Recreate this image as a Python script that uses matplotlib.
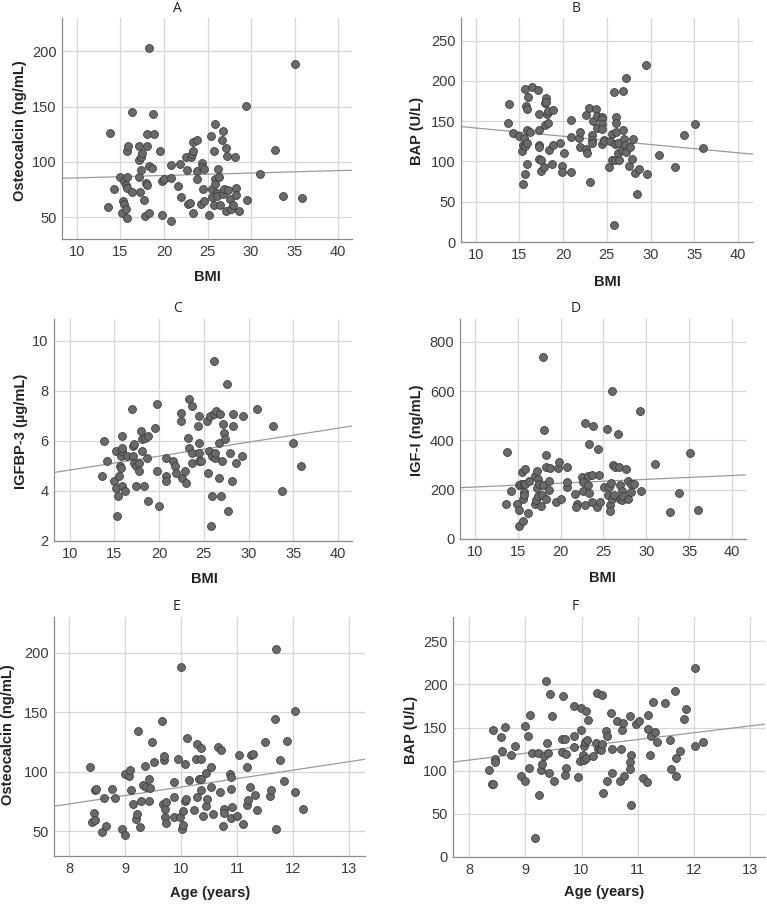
import matplotlib
matplotlib.use("Agg")
import matplotlib.pyplot as plt
import numpy as np

W, H = 767, 907

# ---------------- data ----------------
bmi_A = [13.57,13.77,14.2,14.9,15.3,15.4,15.2,15.6,15.8,15.4,
         15.6,15.8,15.8,15.7,15.9,16.3,16.3,17.1,17.1,17.2,
         17.1,17.3,17.4,17.5,17.7,17.9,17.8,18.1,18.0,18.1,
         18.3,18.3,18.3,18.6,18.7,18.8,19.5,19.8,19.8,20.0,
         20.8,20.8,20.8,21.6,21.8,21.9,22.5,22.6,22.7,23.0,
         23.1,23.2,23.3,23.3,23.3,23.8,23.8,23.8,24.3,24.4,
         24.4,24.5,24.6,24.6,25.2,25.4,25.5,25.5,25.8,25.8,
         25.9,25.9,25.9,26.1,26.1,26.2,26.3,26.4,26.7,26.8,
         26.8,26.9,27.1,27.2,27.1,27.4,27.6,27.7,27.9,28.1,
         28.3,28.3,28.6,29.4,29.5,31.0,32.7,33.7,35.0,35.9]
osteo_A = [59.6,126.2,75.9,86.7,64.5,62.0,53.6,57.8,49.4,82.8,
           79.2,86.7,76.2,110.2,114.8,72.6,144.9,114.5,101.5,72.6,
           86.4,92.8,104.8,108.1,65.7,81.3,51.2,78.9,125.6,114.5,
           54.2,202.7,96.4,94.6,143.1,125.3,110.2,52.1,82.8,84.9,
           97.3,85.2,46.7,78.6,98.2,68.7,104.8,93.1,62.3,62.7,
           104.8,107.2,109.9,117.8,54.2,120.2,92.2,84.3,62.3,98.8,
           95.8,75.6,64.8,94.0,51.8,123.8,75.3,68.1,109.6,60.8,
           134.6,84.6,80.4,71.7,69.6,93.7,86.1,61.4,119.9,128.3,
           71.1,75.6,113.0,105.4,55.4,74.7,66.6,57.2,61.4,104.5,
           76.2,70.5,56.0,150.9,65.7,88.9,110.5,69.0,188.6,67.8]

bmi_B = [13.65,13.84,14.3,15.0,15.3,15.4,15.4,15.5,15.6,15.6,
         15.7,15.8,15.9,15.9,15.9,16.0,15.9,16.2,16.4,17.1,
         17.2,17.2,17.3,17.3,17.3,17.5,17.5,17.8,17.9,17.9,
         18.1,18.1,18.2,18.3,18.3,18.4,18.7,18.8,18.9,19.6,
         19.9,19.9,20.1,20.85,20.9,20.9,21.8,21.9,21.9,22.6,
         22.6,22.7,23.0,23.1,23.25,23.3,23.3,23.4,23.8,23.9,
         23.9,24.4,24.5,24.5,24.5,24.5,24.7,24.7,25.2,25.4,
         25.6,25.6,25.8,25.8,25.9,25.95,26.1,26.1,26.1,26.3,
         26.3,26.4,26.7,26.8,26.8,27.0,27.1,27.2,27.2,27.5,
         27.7,27.9,28.0,28.2,28.4,28.7,29.45,29.6,31.0,32.8,
         33.8,35.1,36.0]
bap_B = [147.4,170.9,135.8,132,113,71.6,120,129.6,119.2,84.9,
         190,168.9,139.1,122.5,164.7,179.6,96.9,136.6,192,188.7,
         139.1,102.6,120.4,118.4,159.4,101.4,87.7,93.5,172.2,145.7,
         178.4,174.3,159,147.4,163.1,114.7,97.3,120.4,163.5,123.3,
         94.8,87.3,110.5,151.5,130.8,87.3,129.6,136.6,117.5,115.9,
         157.7,110.5,166.4,74.1,133.3,126.7,122.5,150.7,165.1,156.9,
         141.1,155.2,152.3,146.5,140.7,121.3,126.7,125.4,93.5,125,
         133.7,101.4,186.7,21.5,101.4,121.7,154.8,136.2,148.2,123.3,
         110.1,101.4,114.2,187.5,139.1,128.3,120,112.2,204,94.8,
         118.4,102.6,127.5,86.1,59.6,91.1,220.2,84.4,108,92.7,
         133.3,146.9,117.1]

bmi_C = [13.6,13.8,14.2,14.9,15.2,15.2,15.3,15.4,15.5,15.6,
         15.7,15.7,15.8,15.8,15.9,15.9,16.2,16.35,17.0,17.1,
         17.1,17.2,17.2,17.4,17.4,17.8,17.8,18.0,18.1,18.1,
         18.3,18.4,18.6,18.7,18.8,19.5,19.8,19.8,20.0,20.8,
         20.8,20.8,21.6,21.8,21.9,22.5,22.5,22.6,22.9,23.0,
         23.2,23.3,23.3,23.7,23.7,23.7,24.3,24.5,24.5,24.5,
         24.5,24.7,25.35,25.5,25.6,25.7,25.9,25.9,25.8,26.1,
         26.1,26.2,26.3,26.4,26.7,26.7,26.8,26.9,27.0,27.1,
         27.2,27.4,27.6,27.7,27.9,28.2,28.3,28.3,28.6,29.3,
         29.4,30.9,32.7,33.7,35.0,35.9]
igfbp3_C = [4.62,6.01,5.22,4.42,5.62,4.12,3.01,3.82,4.62,5.02,
            5.42,4.92,4.2,6.2,5.62,5.71,4.02,5.41,7.30,5.81,
            5.41,5.9,5.13,5.02,4.22,4.82,5.14,6.41,5.61,6.1,
            4.22,6.11,5.31,3.62,6.2,6.51,7.50,4.80,3.42,5.31,
            4.62,4.42,5.22,5.02,4.72,7.12,6.81,4.51,4.82,4.31,
            6.11,7.70,5.73,7.40,5.51,5.11,6.61,7.01,5.91,5.53,
            5.2,5.22,6.81,4.71,5.62,7.01,5.41,3.82,2.61,7.10,
            9.2,5.33,5.51,7.21,4.51,5.91,7.10,3.82,5.22,6.70,
            6.31,6.1,8.30,3.22,5.51,4.42,7.10,6.61,5.11,5.41,
            7.01,7.30,6.61,4.02,5.91,5.02]

bmi_D = [13.6,13.8,14.2,14.9,15.2,15.2,15.2,15.4,15.5,15.6,
         15.6,15.7,15.7,15.7,15.9,15.9,16.2,16.3,17.0,17.0,
         17.1,17.2,17.2,17.4,17.4,17.5,17.7,17.8,17.9,18.0,
         18.1,18.3,18.3,18.3,18.6,18.6,18.8,19.5,19.7,19.8,
         20.0,20.7,20.8,20.8,21.7,21.9,21.8,22.5,22.6,22.6,
         22.9,22.9,23.2,23.2,23.3,23.3,23.7,23.7,23.8,24.3,
         24.4,24.5,24.6,25.1,25.4,25.5,25.6,25.8,25.8,25.9,
         25.95,26.0,26.1,26.2,26.4,26.7,26.8,26.9,26.9,27.1,
         27.1,27.3,27.6,27.8,27.9,28.2,28.2,28.6,29.3,29.4,
         31.0,32.7,33.8,35.1,36.0]
igf1_D = [143,352,196,143,118,51,218,223,272,73,
          161,192,177,225,283,222,106,234,254,141,
          158,275,207,242,176,223,134,180,219,737,
          442,164,342,291,198,234,288,149,288,313,
          162,291,210,233,183,143,129,252,231,195,
          137,472,257,218,187,386,258,149,457,129,
          363,258,150,210,445,177,211,139,115,227,
          164,602,302,177,292,426,292,218,162,196,
          158,176,284,235,162,221,191,222,517,195,
          303,108,188,348,119]

age_E = [8.38,8.41,8.45,8.46,8.47,8.48,8.58,8.62,8.65,8.77,
         8.82,8.94,9.0,9.0,9.07,9.08,9.10,9.14,9.19,9.22,
         9.23,9.26,9.29,9.31,9.36,9.38,9.42,9.43,9.45,9.48,
         9.52,9.65,9.68,9.69,9.69,9.71,9.72,9.71,9.73,9.88,
         9.88,9.88,9.95,9.98,10.0,10.01,10.04,10.04,10.07,10.07,
         10.09,10.10,10.14,10.22,10.27,10.29,10.29,10.32,10.35,10.36,
         10.36,10.36,10.39,10.44,10.45,10.46,10.53,10.54,10.57,10.65,
         10.70,10.71,10.74,10.76,10.77,10.87,10.88,10.89,10.89,10.90,
         11.0,11.03,11.10,11.17,11.18,11.20,11.23,11.25,11.29,11.32,
         11.35,11.49,11.59,11.61,11.67,11.69,11.69,11.76,11.84,11.88,
         12.03,12.03,12.18]
osteo_E = [103.8,57.9,65.4,59,84.1,85.6,49.2,78.0,54.2,85.6,
           78.0,51.4,46.4,97.7,96,101.3,84.2,72.4,60.1,64.3,
           134.4,53.1,75.5,88.7,105.0,87.0,75.2,94.0,86.5,124.9,
           107.8,142.8,73.0,109.7,112.8,68.2,74.4,61.5,56.7,78.9,
           91.5,61.5,110.9,62.1,188,51.4,55.1,66.8,106.4,75.2,
           77.2,128.5,92.9,67.7,110.3,78.6,123.2,93.5,110.3,120.1,
           84.8,94.0,62.6,98.8,71.0,76.6,103.8,86.7,64.6,120.7,
           82.5,118.1,53.9,68.8,65.4,97.7,95.7,60.9,85.3,69.9,
           62.6,114.2,56.2,104.1,71.9,76.4,86.7,113.9,114.8,80.6,
           67.4,124.9,79.7,84.2,144.5,202.8,51.7,110.0,92.3,125.7,
           150.7,82.5,68.8]

age_F = [8.36,8.40,8.43,8.43,8.45,8.46,8.57,8.59,8.63,8.75,
         8.81,8.93,8.99,8.99,9.05,9.07,9.09,9.12,9.18,9.22,
         9.24,9.28,9.30,9.34,9.36,9.38,9.41,9.42,9.43,9.47,
         9.51,9.67,9.66,9.65,9.70,9.72,9.72,9.71,9.86,9.87,
         9.87,9.94,9.97,9.99,9.995,10.03,10.04,10.05,10.07,10.08,
         10.08,10.09,10.12,10.21,10.26,10.28,10.29,10.33,10.35,10.36,
         10.36,10.38,10.43,10.45,10.45,10.52,10.55,10.54,10.64,10.69,
         10.71,10.73,10.74,10.76,10.87,10.88,10.87,10.87,10.89,10.98,
         11.03,11.09,11.17,11.18,11.18,11.22,11.24,11.27,11.31,11.34,
         11.49,11.58,11.60,11.66,11.69,11.69,11.76,11.83,11.87,12.03,
         12.03,12.17]
bap_F = [101.1,84.9,84.5,147.4,113.4,110.3,138.5,122.3,150.5,118.1,
         128.9,93.4,87.6,151.2,139.7,103.0,164.7,120.0,22.0,120.0,
         71.8,101.1,108.0,116.5,204.1,131.6,120.8,97.2,188.3,163.6,
         88.0,186.7,137.0,121.1,137.0,119.6,102.6,94.5,174.8,140.0,
         127.7,92.6,111.1,147.0,172.5,118.4,111.9,128.9,132.7,168.6,
         115.0,135.4,158.2,116.9,131.9,190.2,124.6,124.6,123.5,187.1,
         130.4,74.5,145.8,139.7,88.3,166.7,124.6,97.2,157.0,87.6,
         125.4,146.6,154.7,94.1,163.2,118.1,110.0,101.5,59.8,154.3,
         157.8,91.4,86.4,148.1,164.7,118.4,139.7,179.4,145.1,133.1,
         178.6,135.8,101.5,192.5,94.1,114.6,122.7,159.3,170.9,219.5,
         128.9,133.1]

# fit lines (intercept, slope)
fit_A = (83.4, 0.219)
fit_B = (151.8, -1.028)
fit_C = (4.28, 0.0558)
fit_D = (195.1, 1.56)
fit_E = (15.8, 7.12)
fit_F = (49.1, 7.9)

titles = ["A", "B", "C", "D", "E", "F"]
ylabels = ["Osteocalcin (ng/mL)", "BAP (U/L)", "IGFBP-3 (\u00b5g/mL)",
           "IGF-I (ng/mL)", "Osteocalcin (ng/mL)", "BAP (U/L)"]
xlabels = ["BMI", "BMI", "BMI", "BMI", "Age (years)", "Age (years)"]
bmi_ticks = [10, 15, 20, 25, 30, 35, 40]
age_ticks = [8, 9, 10, 11, 12, 13]
yticks_list = [[50, 100, 150, 200], [0, 50, 100, 150, 200, 250],
               [2, 4, 6, 8, 10], [0, 200, 400, 600, 800],
               [50, 100, 150, 200], [0, 50, 100, 150, 200, 250]]

# ---------------- layout (pixels) ----------------
# (left, right, top, bottom)
boxes = [(62, 352, 18, 239), (461, 753, 18, 242),
         (54, 352, 319, 541), (460, 746, 319, 539),
         (54, 365, 617, 856), (453, 765, 617, 857)]
xlims = [(8.28, 41.6), (8.33, 41.7), (8.24, 41.57), (8.29, 41.6),
         (7.73, 13.28), (7.71, 13.27)]
ylims = [(30.4, 230), (0, 278), (2, 10.88), (0, 892), (29, 230), (0, 278)]
title_pos = [(177, 8), (576, 8), (178, 309), (576, 309), (177, 606), (575, 607)]
xlab_pos = [(207, 277), (607, 282), (204, 579), (602, 578), (210, 893), (604, 892)]
ylab_pos = [(20, 131), (417, 131), (21, 431), (417, 430), (8, 735), (411, 730)]

xs = [bmi_A, bmi_B, bmi_C, bmi_D, age_E, age_F]
ys = [osteo_A, bap_B, igfbp3_C, igf1_D, osteo_E, bap_F]
fits = [fit_A, fit_B, fit_C, fit_D, fit_E, fit_F]

fig = plt.figure(figsize=(W / 100, H / 100), dpi=100)
fig.patch.set_facecolor("white")

def fx(px):
    return px / W

def fy(py):
    return 1 - py / H

for i in range(6):
    l, r, t, b = boxes[i]
    ax = fig.add_axes([fx(l), fy(b), (r - l) / W, (b - t) / H])
    ax.set_xlim(*xlims[i])
    ax.set_ylim(*ylims[i])
    ax.set_xticks(bmi_ticks if i < 4 else age_ticks)
    ax.set_yticks(yticks_list[i])
    ax.grid(True, color="#d6d6d6", linewidth=0.9)
    ax.set_axisbelow(True)
    for s in ["top", "right"]:
        ax.spines[s].set_visible(False)
    for s in ["left", "bottom"]:
        ax.spines[s].set_color("#8a8a8a")
        ax.spines[s].set_linewidth(0.9)
    ax.tick_params(length=0, pad=4, labelsize=10.5, colors="#3a3a3a")
    for lab in ax.get_xticklabels() + ax.get_yticklabels():
        lab.set_fontfamily("Liberation Sans")
    a0, b0 = fits[i]
    xl = np.array(xlims[i])
    ax.plot(xl, a0 + b0 * xl, color="#9a9a9a", linewidth=0.9, zorder=2)
    ax.scatter(xs[i], ys[i], s=32, facecolor="#6a6a6a", edgecolor="#3c3c3c",
               linewidth=0.6, zorder=3, clip_on=False)

    tx, ty = title_pos[i]
    fig.text(fx(tx), fy(ty), titles[i], ha="center", va="center",
             fontsize=10, family="Open Sans", color="#222222")
    lx, ly = xlab_pos[i]
    fig.text(fx(lx), fy(ly), xlabels[i], ha="center", va="center",
             fontsize=10.5, fontweight="bold", family="Liberation Sans", color="#222222")
    yx, yy = ylab_pos[i]
    fig.text(fx(yx), fy(yy), ylabels[i], ha="center", va="center", rotation=90,
             fontsize=10.5, fontweight="bold", family=["Liberation Sans", "DejaVu Sans"],
             color="#222222")

fig.savefig("out.png", dpi=100, facecolor="white")
